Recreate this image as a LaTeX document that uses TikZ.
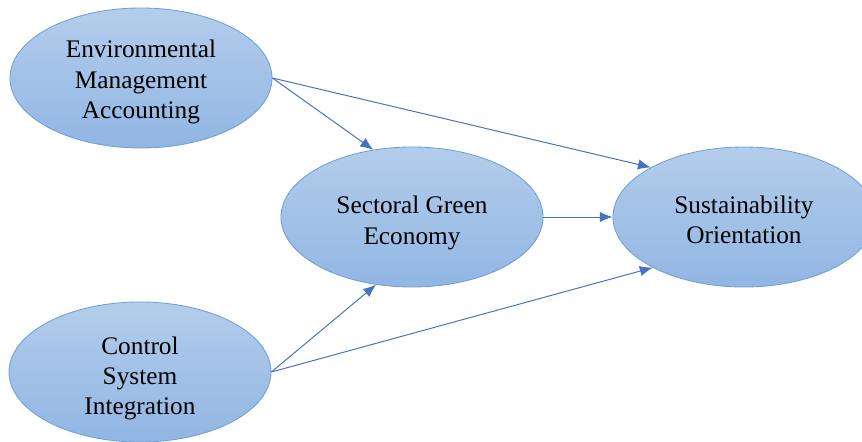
\documentclass[tikz,border=0pt]{standalone}
\usepackage{fontspec}
\setmainfont{Liberation Serif}
\usepackage{tikz}
\usetikzlibrary{arrows.meta,shapes.geometric}
\definecolor{OvalTop}{RGB}{180,205,235}
\definecolor{OvalBottom}{RGB}{145,182,227}
\definecolor{OvalLine}{RGB}{110,160,215}
\definecolor{LinkBlue}{RGB}{68,114,196}
\begin{document}
\begin{tikzpicture}[>={Latex[length=3.2mm,width=2.6mm]},
  construct/.style={ellipse,draw=OvalLine,line width=0.6pt,top color=OvalTop,bottom color=OvalBottom,
    minimum width=6.55cm,minimum height=3.5cm,inner sep=0pt},
  caption/.style={align=center,inner sep=0pt,yshift=-0.13cm,font=\fontsize{18}{21.5}\selectfont},
  link/.style={->,draw=LinkBlue,line width=0.7pt}]
\useasboundingbox (0,0) rectangle (21.55,11.05);
\clip (0,0) rectangle (21.55,11.05);
\node[construct,label={[caption,yshift=0.03cm]center:Environmental\\Management\\Accounting}] (ema) at (3.525,9.1) {};
\node[construct,label={[caption,yshift=-0.02cm]center:Sectoral Green\\Economy}] (sge) at (10.3,5.625) {};
\node[construct,label={[caption,yshift=0.06cm]center:Sustainability\\Orientation}] (so) at (18.6,5.625) {};
\node[construct,label={[caption,yshift=-0.03cm]center:Control\\System\\Integration}] (csi) at (3.5,1.75) {};
\draw[link] (ema.east)--(sge.120);
\draw[link] (ema.east)--(so.152);
\draw[link] (sge.east)--(so.west);
\draw[link] (csi.east)--(sge.242);
\draw[link] (csi.east)--(so.209);
\end{tikzpicture}
\end{document}
